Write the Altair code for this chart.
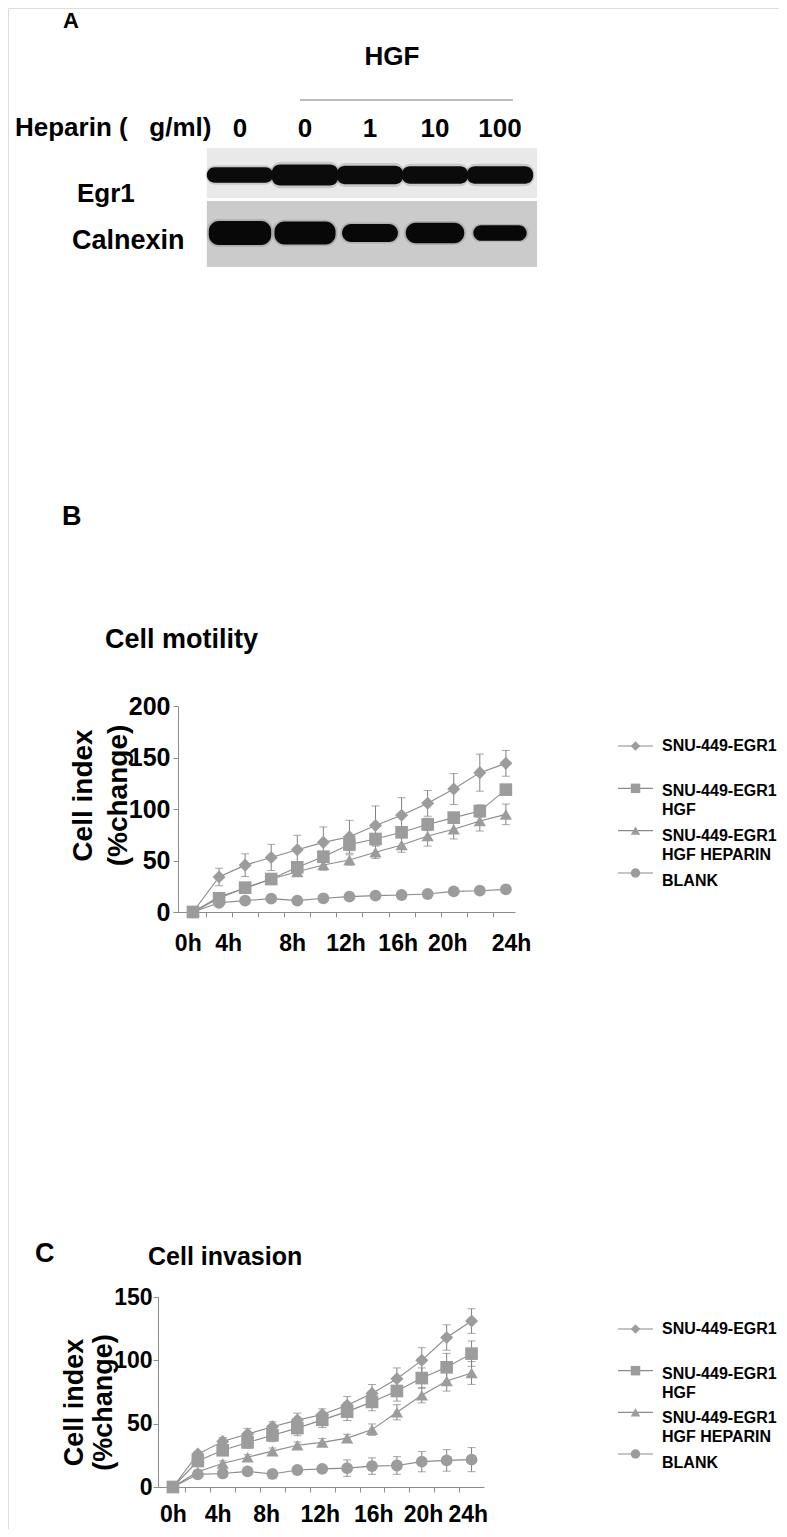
import json
import altair as alt
import pandas as pd

# ---------------- data ----------------
hours = [0, 2, 4, 6, 8, 10, 12, 14, 16, 18, 20, 22, 24]
series = ["SNU-449-EGR1", "SNU-449-EGR1 HGF", "SNU-449-EGR1 HGF HEPARIN", "BLANK"]
legend_labels = ["SNU-449-EGR1", "SNU-449-EGR1\nHGF", "SNU-449-EGR1\nHGF HEPARIN", "BLANK"]
series_shapes = ["diamond", "square", "triangle-up", "circle"]
draw_order = ["SNU-449-EGR1", "SNU-449-EGR1 HGF HEPARIN", "BLANK", "SNU-449-EGR1 HGF"]

# Cell motility (panel B), % change
motility_egr1 = [0, 34, 45.5, 53, 60.5, 67.6, 73, 84, 94, 105.5, 119.4, 135.3, 144.3]
motility_egr1_err = [0, 8.5, 11, 12.7, 14, 15, 16, 19, 17, 12.5, 15, 18, 12.5]
motility_hgf = [0, 13.3, 23.6, 32, 43.4, 53.7, 65.5, 70.9, 77.4, 85, 91.6, 98, 118.8]
motility_hgf_err = [0, 2, 3, 3, 4, 5, 6, 5, 5, 6, 5, 6, 4]
motility_heparin = [0, 14.9, 23, 32, 39, 45.6, 50.5, 58, 65, 73.8, 80.3, 88.3, 94.8]
motility_heparin_err = [0, 2, 3, 3, 4, 5, 5, 6, 7, 9.8, 9.4, 9.7, 10]
motility_blank = [0, 9, 11, 13, 11, 13.3, 14.9, 15.9, 16.5, 17.5, 20, 20.7, 22]
motility_blank_err = [0, 1, 1, 1, 1, 1, 1, 1, 1, 1, 1, 1, 1]

# Cell invasion (panel C), % change
invasion_egr1 = [0, 26, 36, 41.8, 47.5, 52.8, 57.2, 64.5, 73.9, 85.5, 100, 118, 131]
invasion_egr1_err = [0, 2, 3, 4.5, 4, 5.5, 4.5, 7, 7, 8.5, 10, 10, 9.7]
invasion_hgf = [0, 20.5, 29, 35.2, 40.8, 46.5, 53, 59.5, 67.2, 75.8, 86, 94.5, 105.3]
invasion_hgf_err = [0, 2, 3, 4.5, 5, 6, 6, 7, 7, 8, 8, 11, 10]
invasion_heparin = [0, 12, 18.6, 23.5, 28.3, 33, 35.2, 38.6, 45.3, 59, 72.4, 83.7, 90]
invasion_heparin_err = [0, 1.5, 2, 2, 2.5, 2.5, 3, 3, 4.5, 6, 6, 8, 9]
invasion_blank = [0, 10, 10.7, 12.3, 10.3, 13.4, 14.3, 14.9, 16.5, 17, 20, 21, 21.6]
invasion_blank_err = [0, 1, 1, 1, 1, 1.5, 2, 6.5, 6.5, 7, 8, 8.5, 9.5]

time_tick_labels = ["0h", "4h", "8h", "12h", "16h", "20h", "24h"]
motility_y_ticks = [0, 50, 100, 150, 200]
invasion_y_ticks = [0, 50, 100, 150]

# Western blot (panel A)
lanes = [0, 1, 2, 3, 4]
heparin_doses = ["0", "0", "1", "10", "100"]
egr1_band = [0.70, 0.95, 0.85, 0.80, 0.80]
calnexin_band = [1.00, 0.95, 0.75, 0.85, 0.65]

# ---------------- styles ----------------
BOLD = "Liberation Sans, Arial, Helvetica, sans-serif"
AXIS_GRAY = "#8c8c8c"
LINE_GRAY = "#8a8a8a"
MARK_GRAY = "#9c9c9c"
ERR_GRAY = "#808080"
W, H = 771, 1521

shape_scale = alt.Scale(domain=series, range=series_shapes)
size_scale = alt.Scale(domain=series, range=[170, 140, 160, 150])


def frame(vals, errs):
    rows = []
    for s, v, e in zip(series, vals, errs):
        for h, y, err in zip(hours, v, e):
            rows.append({"series": s, "hour": h, "value": y,
                         "lo": y - err, "hi": y + err, "err": err,
                         "draw": draw_order.index(s)})
    df = pd.DataFrame(rows)
    return df.sort_values(["draw", "hour"]).reset_index(drop=True)


def timecourse(df, xdom, xrng, ydom, yrng, yvals, label_pos, xoff, yoff,
               xlab_size, xlab_pad, ylab_size, ylab_pad, title_size, title_lh,
               title_x, title_y):
    odd = [h for h in range(1, 24, 2)]
    lp = json.dumps(label_pos)
    lt = json.dumps(time_tick_labels)
    x_axis = alt.Axis(
        orient="bottom", offset=xoff, values=odd + label_pos,
        labelExpr=f"{lt}[indexof({lp}, datum.value)] || ''",
        tickOpacity={"condition": {"test": f"indexof({lp}, datum.value) < 0", "value": 1}, "value": 0},
        tickSize=5, tickColor=AXIS_GRAY, domainColor=AXIS_GRAY, grid=False,
        labelFont=BOLD, labelFontWeight="bold", labelFontSize=xlab_size,
        labelColor="black", labelBaseline="alphabetic", labelPadding=xlab_pad,
        labelOverlap=False, labelFlush=False, labelBound=False, title=None)
    y_axis = alt.Axis(
        orient="left", offset=yoff, values=yvals, tickSize=5, tickColor=AXIS_GRAY,
        domainColor=AXIS_GRAY, grid=False, labelFont=BOLD, labelFontWeight="bold",
        labelFontSize=ylab_size, labelColor="black", labelPadding=ylab_pad,
        labelOverlap=False, labelFlush=False,
        title=["Cell index", "(%change)"], titleFont=BOLD, titleFontWeight="bold",
        titleFontSize=title_size, titleLineHeight=title_lh, titleColor="black",
        titleX=title_x, titleY=title_y, titleBaseline="bottom", titleAngle=270)
    xs = alt.Scale(domain=xdom, range=xrng, nice=False, zero=False)
    ys = alt.Scale(domain=ydom, range=yrng, nice=False, zero=False)
    X = alt.X("hour:Q", scale=xs, axis=x_axis)
    base = alt.Chart(df)
    errs = base.transform_filter("datum.err > 0")
    rule = errs.mark_rule(color=ERR_GRAY, strokeWidth=1).encode(
        x=X, y=alt.Y("lo:Q", scale=ys, axis=y_axis), y2="hi:Q")
    caps = errs.transform_fold(["lo", "hi"], as_=["end", "yv"]).mark_tick(
        orient="horizontal", size=8, thickness=1, color=ERR_GRAY).encode(
        x=X, y=alt.Y("yv:Q", scale=ys, axis=y_axis))
    line = base.mark_line(color=LINE_GRAY, strokeWidth=1.1).encode(
        x=X, y=alt.Y("value:Q", scale=ys, axis=y_axis),
        detail="series:N", order="hour:Q")
    pts = base.mark_point(filled=True, opacity=1, color=MARK_GRAY).encode(
        x=X, y=alt.Y("value:Q", scale=ys, axis=y_axis),
        shape=alt.Shape("series:N", scale=shape_scale, legend=None),
        size=alt.Size("series:N", scale=size_scale, legend=None))
    return alt.layer(rule, caps, line, pts)


def legend(marker_rng, text_rng):
    ldf = pd.DataFrame({"series": series, "label": legend_labels,
                        "slot": list(range(len(series)))})
    xs = alt.Scale(domain=[0, 1], range=[610, 645], nice=False, zero=False)
    ym = alt.Scale(domain=[0, 3], range=marker_rng, nice=False, zero=False)
    yt = alt.Scale(domain=[0, 3], range=text_rng, nice=False, zero=False)
    base = alt.Chart(ldf).transform_calculate(x0="0", x1="1", xm="0.5", xt="1.257")
    r = base.mark_rule(color=LINE_GRAY, strokeWidth=1.1).encode(
        x=alt.X("x0:Q", scale=xs, axis=None), x2="x1:Q",
        y=alt.Y("slot:Q", scale=ym, axis=None))
    p = base.mark_point(filled=True, opacity=1, color=MARK_GRAY, size=90).encode(
        x=alt.X("xm:Q", scale=xs, axis=None),
        y=alt.Y("slot:Q", scale=ym, axis=None),
        shape=alt.Shape("series:N", scale=shape_scale, legend=None))
    t = base.mark_text(align="left", baseline="middle", lineBreak="\n", font=BOLD,
                       fontWeight="bold", fontSize=16, lineHeight=19, color="black").encode(
        x=alt.X("xt:Q", scale=xs, axis=None),
        y=alt.Y("slot:Q", scale=yt, axis=None),
        text="label:N")
    return alt.layer(alt.layer(r, p), t).resolve_scale(y="independent")


# ---------------- panel A (blot) ----------------
lane_scale = alt.Scale(domain=[0, 4], range=[232, 492], nice=False, zero=False)
page_y = alt.Scale(domain=[8, 8 + H], range=[0, H], nice=False, zero=False)

blot_rows = pd.DataFrame({"protein": ["Egr1", "Calnexin"],
                          "top": [148, 201], "bottom": [198, 267],
                          "shade": ["#e9e9e9", "#cbcbcb"]})
bg = alt.Chart(blot_rows).transform_calculate(xa="-0.51", xb="4.57").mark_rect().encode(
    x=alt.X("xa:Q", scale=lane_scale, axis=None), x2="xb:Q",
    y=alt.Y("top:Q", scale=page_y, axis=None), y2="bottom:Q",
    color=alt.Color("shade:N", scale=None))

egr1_df = pd.DataFrame({"lane": lanes, "signal": egr1_band})
cal_df = pd.DataFrame({"lane": lanes, "signal": calnexin_band})
egr1_halo = alt.Chart(egr1_df).transform_calculate(
    xa="datum.lane - 0.53", xb="datum.lane + 0.53",
    ya="175 - 14 * datum.signal", yb="175 + 14 * datum.signal").mark_rect(
    color="#3a3a3a", opacity=0.18, cornerRadius=10).encode(
    x=alt.X("xa:Q", scale=lane_scale, axis=None), x2="xb:Q",
    y=alt.Y("ya:Q", scale=page_y, axis=None), y2="yb:Q")
egr1_bands = alt.Chart(egr1_df).transform_calculate(
    xa="datum.lane - 0.51", xb="datum.lane + 0.51",
    ya="175 - 11 * datum.signal", yb="175 + 11 * datum.signal").mark_rect(
    color="#0b0b0b", cornerRadius=8).encode(
    x=alt.X("xa:Q", scale=lane_scale, axis=None), x2="xb:Q",
    y=alt.Y("ya:Q", scale=page_y, axis=None), y2="yb:Q")
cal_halo = alt.Chart(cal_df).transform_calculate(
    xa="datum.lane - (0.31 + 0.2 * datum.signal)", xb="datum.lane + (0.31 + 0.2 * datum.signal)",
    ya="233 - 14 * datum.signal", yb="233 + 14 * datum.signal").mark_rect(
    color="#3a3a3a", opacity=0.18, cornerRadius=12).encode(
    x=alt.X("xa:Q", scale=lane_scale, axis=None), x2="xb:Q",
    y=alt.Y("ya:Q", scale=page_y, axis=None), y2="yb:Q")
cal_bands = alt.Chart(cal_df).transform_calculate(
    xa="datum.lane - (0.28 + 0.2 * datum.signal)", xb="datum.lane + (0.28 + 0.2 * datum.signal)",
    ya="233 - 12 * datum.signal", yb="233 + 12 * datum.signal").mark_rect(
    color="#080808", cornerRadius=10).encode(
    x=alt.X("xa:Q", scale=lane_scale, axis=None), x2="xb:Q",
    y=alt.Y("ya:Q", scale=page_y, axis=None), y2="yb:Q")
dose_df = pd.DataFrame({"lane": lanes, "dose": heparin_doses})
dose_text = alt.Chart(dose_df).mark_text(
    font=BOLD, fontWeight="bold", fontSize=26, baseline="alphabetic", align="center",
    color="black").encode(
    x=alt.X("lane:Q", scale=lane_scale, axis=None), y=alt.value(129), text="dose:N")
panel_a = alt.layer(bg, egr1_halo, cal_halo, egr1_bands, cal_bands, dose_text)


def note(text, x, y, size, align="left"):
    return alt.Chart(pd.DataFrame({"t": [text]})).mark_text(
        font=BOLD, fontWeight="bold", fontSize=size, align=align, baseline="alphabetic",
        color="black").encode(x=alt.value(x), y=alt.value(y), text="t:N")


hgf_line = alt.Chart(pd.DataFrame({"t": ["HGF"]})).mark_rule(
    color="#7a7a7a", strokeWidth=1).encode(x=alt.value(292), x2=alt.value(505), y=alt.value(92))

notes = [
    note("A", 55, 20, 22),
    note("HGF", 384, 57, 26, align="center"),
    note("Heparin (\u00a0\u00a0\u00a0g/ml)", 7, 128, 26),
    note("Egr1", 69, 194, 26),
    note("Calnexin", 64, 241, 27),
    note("B", 54, 517, 27),
    note("Cell motility", 97, 640, 27),
    note("C", 27, 1254, 27),
    note("Cell invasion", 140, 1257, 25),
]

# ---------------- panels B and C ----------------
panel_b = timecourse(
    frame([motility_egr1, motility_hgf, motility_heparin, motility_blank],
          [motility_egr1_err, motility_hgf_err, motility_heparin_err, motility_blank_err]),
    xdom=[-1.15, 24.7], xrng=[170, 507], ydom=[0, 200], yrng=[904, 698],
    yvals=motility_y_ticks, label_pos=[-0.4, 2.7, 7.6, 11.7, 15.7, 19.5, 24.4],
    xoff=904 - H, yoff=-170, xlab_size=23, xlab_pad=33, ylab_size=25, ylab_pad=3,
    title_size=28, title_lh=35, title_x=-81, title_y=787)
legend_b = legend([738, 865], [738, 873])

panel_c = timecourse(
    frame([invasion_egr1, invasion_hgf, invasion_heparin, invasion_blank],
          [invasion_egr1_err, invasion_hgf_err, invasion_heparin_err, invasion_blank_err]),
    xdom=[-1.2, 25], xrng=[150, 476], ydom=[0, 150], yrng=[1479, 1289],
    yvals=invasion_y_ticks, label_pos=[0, 3.6, 7.5, 11.8, 16.1, 20.1, 23.7],
    xoff=1479 - H, yoff=-150, xlab_size=23, xlab_pad=29, ylab_size=23, ylab_pad=1,
    title_size=27, title_lh=29, title_x=-70, title_y=1394)
legend_c = legend([1321, 1446], [1321, 1455])

chart = alt.layer(panel_a, panel_b, legend_b, panel_c, legend_c, hgf_line, *notes).resolve_scale(
    x="independent", y="independent").properties(
    width=W, height=H, padding=0, autosize=alt.AutoSizeParams(type="none")
).configure_view(stroke=None).configure(background="white")

chart.save("out.html", embed_options={"renderer": "svg", "actions": False})
